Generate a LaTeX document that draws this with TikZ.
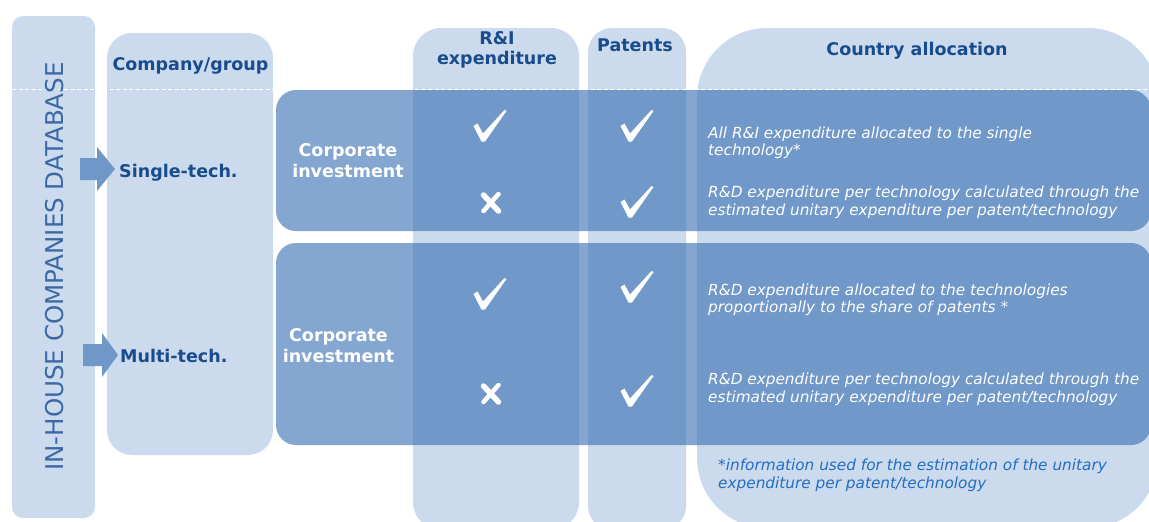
\documentclass[tikz,border=0pt]{standalone}
\usepackage{fontspec}
\setmainfont{DejaVu Sans}
\definecolor{colfill}{RGB}{203,218,236}
\definecolor{bandblue}{RGB}{60,114,180}
\definecolor{arrowblue}{RGB}{111,152,201}
\definecolor{hdrblue}{RGB}{24,76,140}
\definecolor{dbblue}{RGB}{60,105,165}
\definecolor{noteblue}{RGB}{35,110,195}
\tikzset{
  colbox/.style={fill=colfill, draw=none},
  bandbox/.style={fill=bandblue, fill opacity=0.63, draw=none, rounded corners=20pt},
  hdrtext/.style={text=hdrblue, font=\fontsize{17.5}{20}\selectfont\bfseries, inner sep=0pt, align=center},
  corptext/.style={text=white, font=\fontsize{17.5}{21}\selectfont\bfseries, inner sep=0pt, align=center},
  desctext/.style={text=white, font=\fontsize{15.3}{17.5}\selectfont\itshape, inner sep=0pt, align=left, anchor=west},
  notetext/.style={text=noteblue, font=\fontsize{15.3}{18}\selectfont\itshape, inner sep=0pt, align=left, anchor=west},
  blockarrow/.style={fill=arrowblue, draw=none},
  checkmark/.pic={\fill[white] (-16.5,0) -- (-12.5,-2.5) -- (-7,7.5) -- (14.5,-16) -- (16.5,-15) -- (-5,15.5) -- (-8.5,15.5) -- cycle;},
  crossmark/.pic={\draw[white, line width=5.5pt, line cap=round] (-7.5,-8) -- (7.5,8); \draw[white, line width=4.5pt, line cap=round] (7.5,-9) -- (-7.5,8);},
}
\begin{document}
\begin{tikzpicture}[x=1pt,y=-1pt]
\useasboundingbox (0,0) rectangle (1149,522);
\clip (0,0) rectangle (1149,522);
% columns
\fill[colbox, rounded corners=11pt] (12,16) rectangle (95,518);
\fill[colbox, rounded corners=25pt] (107,33) rectangle (273,455);
\fill[colbox, rounded corners=28pt] (413,28) rectangle (579,530);
\fill[colbox, rounded corners=24pt] (588,28) rectangle (686,530);
\fill[colbox, rounded corners=70pt] (697,28) rectangle (1158,528);
% dashed separator
\draw[white, line width=1pt, dash pattern=on 4pt off 2.5pt] (12,89) -- (1149,89);
% bands
\fill[bandbox] (276,90) rectangle (1151,231);
\fill[bandbox] (276,243) rectangle (1151,445);
% left vertical title
\node[rotate=90, anchor=base, text=dbblue, font=\fontsize{24.5}{28}\selectfont, inner sep=0pt] (db) at (63,266.5) {IN-HOUSE COMPANIES DATABASE};
% headers
\node[hdrtext, anchor=base] (hcomp) at (190.5,70) {Company/group};
\node[hdrtext] (hri) at (497,49.7) {R\&I\\expenditure};
\node[hdrtext, anchor=base] (hpat) at (635,51) {Patents};
\node[hdrtext, anchor=base] (hcty) at (917,55) {Country allocation};
% block arrows
\fill[blockarrow] (80,158) -- (97,158) -- (97,147) -- (115,169) -- (97,191) -- (97,180) -- (80,180) -- cycle;
\fill[blockarrow] (83,344) -- (102,344) -- (102,333) -- (118,355) -- (102,377) -- (102,366) -- (83,366) -- cycle;
\node[hdrtext, anchor=base west] (single) at (119,177) {Single-tech.};
\node[hdrtext, anchor=base west] (multi) at (120,362) {Multi-tech.};
% corporate investment
\node[corptext] (corp1) at (348,161) {Corporate\\investment};
\node[corptext] (corp2) at (338.5,346) {Corporate\\investment};
% marks
\pic at (490,126) {checkmark};
\pic at (637,126) {checkmark};
\pic at (491,203) {crossmark};
\pic at (637,202) {checkmark};
\pic at (490,294) {checkmark};
\pic at (637,287) {checkmark};
\pic at (491,394) {crossmark};
\pic at (637,391) {checkmark};
% descriptions
\node[desctext] (d1) at (708,142.8) {All R\&I expenditure allocated to the single\\technology*};
\node[desctext] (d2) at (708,202.5) {R\&D expenditure per technology calculated through the\\estimated unitary expenditure per patent/technology};
\node[desctext] (d3) at (708,300) {R\&D expenditure allocated to the technologies\\proportionally to the share of patents *};
\node[desctext] (d4) at (708,389.5) {R\&D expenditure per technology calculated through the\\estimated unitary expenditure per patent/technology};
\node[notetext] (note) at (718,475) {*information used for the estimation of the unitary\\expenditure per patent/technology};
\end{tikzpicture}
\end{document}
